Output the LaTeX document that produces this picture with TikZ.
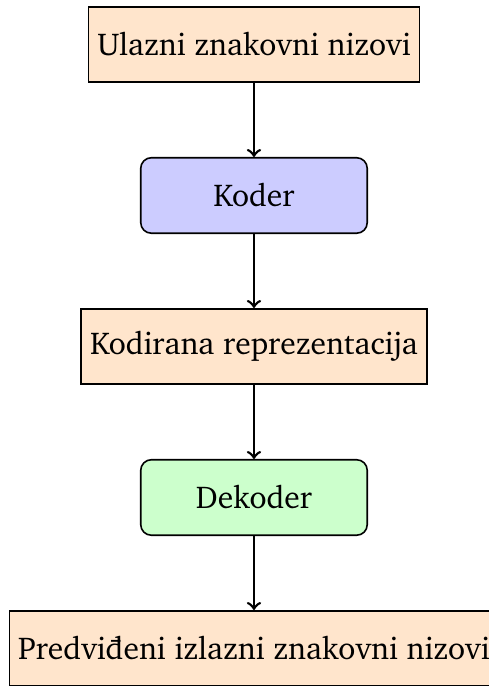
\documentclass[tikz,border=0pt]{standalone}
\usepackage[T1]{fontenc}
\usepackage{charter}
\usepackage{tikz}
\usetikzlibrary{positioning, arrows}
\tikzset{
  ->,
  node distance=2cm,
  every node/.style={font=\fontsize{11.9}{14}\selectfont, draw, semithick, minimum height=1cm},
  every edge/.style={draw, line width=1pt},
  datablock/.style={rectangle, fill=orange!20},
  netblock/.style={rectangle, rounded corners, minimum width=3cm},
}

\begin{document}
\begin{tikzpicture}
      \useasboundingbox (0,0) rectangle (6.464,-9.086);
      \node[datablock]                        (inp) at (3.364,-0.589) {Ulazni znakovni nizovi};
      \node[netblock,fill=blue!20,below of=inp]  (enc) {Koder};
      \node[datablock,below of=enc]           (rep) {Kodirana reprezentacija};
      \node[netblock,fill=green!20,below of=rep] (dec) {Dekoder};
      \node[datablock,below of=dec]           (out) {Predvi\dj eni izlazni znakovni nizovi};

      \draw (inp) edge (enc)
            (enc) edge (rep)
            (rep) edge (dec)
            (dec) edge (out);
    \end{tikzpicture}
\end{document}
